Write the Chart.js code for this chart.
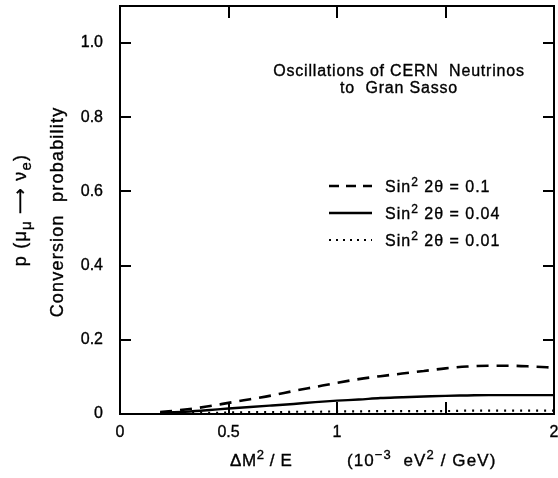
<!DOCTYPE html>
<html>
<head>
<meta charset="utf-8">
<title>Oscillations of CERN Neutrinos to Gran Sasso</title>
<script src="https://cdn.jsdelivr.net/npm/chart.js@4.4.1/dist/chart.umd.min.js"></script>
<style>
  html, body { margin: 0; padding: 0; background: #ffffff; overflow: hidden; width: 558px; height: 478px; }
  #wrap { position: absolute; left: 0; top: 0; width: 578px; height: 478px; }
</style>
</head>
<body>
<div id="wrap"><canvas id="chart"></canvas></div>
<script>
// ΔM²/E in units of 1e-3 eV²/GeV
const deltaM2OverE = [0.185, 0.3, 0.4, 0.5, 0.6, 0.7, 0.8, 0.9, 1.0, 1.1, 1.2, 1.3, 1.4, 1.5, 1.6, 1.7, 1.8, 1.9, 2.0];

// conversion probability p(νμ → νe) for each mixing strength
const probMix010 = [0.005, 0.012, 0.020, 0.030, 0.040, 0.050, 0.062, 0.073, 0.084, 0.094, 0.102, 0.109, 0.116, 0.123, 0.128, 0.130, 0.130, 0.128, 0.125];
const probMix004 = [0.003, 0.006, 0.010, 0.015, 0.019, 0.023, 0.027, 0.032, 0.036, 0.039, 0.043, 0.045, 0.047, 0.049, 0.050, 0.051, 0.051, 0.051, 0.051];
const probMix001 = [0.002, 0.003, 0.003, 0.004, 0.005, 0.005, 0.006, 0.006, 0.007, 0.007, 0.008, 0.008, 0.008, 0.008, 0.009, 0.009, 0.009, 0.009, 0.009];

const mixingLabels = ['0.1', '0.04', '0.01'];

const xTickValues = [0, 0.5, 1, 1.5, 2];
const xTickLabels = ['0', '0.5', '1', '', '2'];
const yTickValues = [0, 0.2, 0.4, 0.6, 0.8, 1.0];
const yTickLabels = ['0', '0.2', '0.4', '0.6', '0.8', '1.0'];

const FAMILY = "'Liberation Sans', Arial, Helvetica, sans-serif";
const INK = '#000000';
const TEXT_STROKE = 0.35;

function toPoints(ys) {
  return deltaM2OverE.map((x, i) => ({ x: x, y: ys[i] }));
}

// rich text: segments with optional superscript / subscript / own font
function segFont(seg, base) {
  let size = base.size;
  if (seg.sup || seg.sub) size = Math.round(base.size * (seg.scale || 0.68));
  return size + 'px ' + (seg.family || FAMILY);
}
function richWidth(ctx, segs, base) {
  let w = 0;
  for (const s of segs) { ctx.font = segFont(s, base); w += ctx.measureText(s.t).width; }
  return w;
}
function drawRich(ctx, segs, x, y, base, align) {
  ctx.letterSpacing = (base.spacing || 0) + 'px';
  const w = richWidth(ctx, segs, base);
  let cx = align === 'center' ? x - w / 2 : (align === 'right' ? x - w : x);
  ctx.textAlign = 'left';
  ctx.textBaseline = 'alphabetic';
  ctx.lineWidth = TEXT_STROKE;
  ctx.setLineDash([]);
  for (const s of segs) {
    ctx.font = segFont(s, base);
    let dy = 0;
    if (s.sup) dy = -base.size * 0.4;
    if (s.sub) dy = base.size * 0.3;
    if (s.dy) dy += s.dy;
    ctx.fillText(s.t, cx, y + dy);
    ctx.strokeText(s.t, cx, y + dy);
    cx += ctx.measureText(s.t).width;
  }
}

const framePlugin = {
  id: 'frameAndNotes',
  afterDraw(chart) {
    const ctx = chart.ctx;
    const a = chart.chartArea;
    const xs = chart.scales.x;
    const ys = chart.scales.y;
    ctx.save();
    ctx.strokeStyle = INK;
    ctx.fillStyle = INK;

    // box around the plotting area
    ctx.lineWidth = 2;
    ctx.setLineDash([]);
    ctx.strokeRect(a.left, a.top, a.right - a.left, a.bottom - a.top);

    // inward tick marks on all four sides
    ctx.beginPath();
    xTickValues.forEach(v => {
      if (v === xs.min || v === xs.max) return;
      const px = Math.round(xs.getPixelForValue(v));
      ctx.moveTo(px, a.bottom); ctx.lineTo(px, a.bottom - 12);
      ctx.moveTo(px, a.top); ctx.lineTo(px, a.top + 12);
    });
    yTickValues.forEach(v => {
      if (v === ys.min) return;
      const py = Math.round(ys.getPixelForValue(v));
      ctx.moveTo(a.left, py); ctx.lineTo(a.left + 11, py);
      ctx.moveTo(a.right, py); ctx.lineTo(a.right - 11, py);
    });
    ctx.stroke();

    // heading inside the plot
    const headBase = { size: 16, spacing: 0.8 };
    drawRich(ctx, [{ t: 'Oscillations of CERN  Neutrinos' }], 399, 76, headBase, 'center');
    drawRich(ctx, [{ t: 'to  Gran Sasso' }], 399, 92.5, headBase, 'center');

    // legend built from the dataset line styles
    const legBase = { size: 16, spacing: 1 };
    const rowsY = [186, 213, 240];
    chart.data.datasets.forEach((ds, i) => {
      const y = rowsY[i];
      ctx.save();
      ctx.lineWidth = ds.borderWidth;
      ctx.setLineDash(ds.legendDash || []);
      ctx.lineCap = 'butt';
      ctx.beginPath();
      ctx.moveTo(329, y);
      ctx.lineTo(372, y);
      ctx.stroke();
      ctx.restore();
      drawRich(ctx, [{ t: 'Sin' }, { t: '2', sup: true, scale: 0.72 }, { t: ' 2θ = ' + mixingLabels[i] }], 385, y + 6, legBase, 'left');
    });

    // x-axis title
    drawRich(ctx, [{ t: 'ΔM' }, { t: '2', sup: true, scale: 0.75 }, { t: ' / E' }], 230, 466, { size: 17, spacing: 0.6 }, 'left');
    drawRich(ctx, [{ t: '(10' }, { t: '−3', sup: true, scale: 0.75 }, { t: '  eV' }, { t: '2', sup: true, scale: 0.75 }, { t: ' / GeV)' }], 347, 466, { size: 17, spacing: 1.1 }, 'left');

    // y-axis title, two rotated lines
    const ytBase = { size: 18, spacing: 1.2 };
    ctx.save();
    ctx.translate(63, 212);
    ctx.rotate(-Math.PI / 2);
    drawRich(ctx, [{ t: 'Conversion  probability' }], 0, 0, ytBase, 'center');
    ctx.restore();

    ctx.save();
    ctx.translate(26, 210);
    ctx.rotate(-Math.PI / 2);
    drawRich(ctx, [
      { t: 'p (μ' },
      { t: 'μ', sub: true, scale: 0.85 },
      { t: ' ' },
      { t: '⟶', family: "'DejaVu Sans', sans-serif" },
      { t: ' ν' },
      { t: 'e', sub: true, scale: 0.85 },
      { t: ')' }
    ], 0, 0, ytBase, 'center');
    ctx.restore();

    ctx.restore();
  }
};

new Chart(document.getElementById('chart'), {
  type: 'scatter',
  data: {
    datasets: [
      {
        label: 'Sin² 2θ = ' + mixingLabels[0],
        data: toPoints(probMix010),
        showLine: true,
        borderColor: INK,
        borderWidth: 2.6,
        borderDash: [12, 8],
        legendDash: [10, 7],
        pointRadius: 0,
        cubicInterpolationMode: 'monotone'
      },
      {
        label: 'Sin² 2θ = ' + mixingLabels[1],
        data: toPoints(probMix004),
        showLine: true,
        borderColor: INK,
        borderWidth: 2.4,
        borderDash: [],
        legendDash: [],
        pointRadius: 0,
        cubicInterpolationMode: 'monotone'
      },
      {
        label: 'Sin² 2θ = ' + mixingLabels[2],
        data: toPoints(probMix001),
        showLine: true,
        borderColor: INK,
        borderWidth: 2.2,
        borderDash: [2, 6],
        legendDash: [2, 5],
        pointRadius: 0,
        cubicInterpolationMode: 'monotone'
      }
    ]
  },
  options: {
    responsive: true,
    maintainAspectRatio: false,
    animation: false,
    events: [],
    layout: { padding: { top: 6, right: 24, bottom: 0, left: 0 } },
    plugins: {
      legend: { display: false },
      tooltip: { enabled: false },
      title: { display: false }
    },
    scales: {
      x: {
        type: 'linear',
        position: 'bottom',
        min: 0,
        max: 2,
        grid: { display: false, drawTicks: false },
        border: { display: false },
        afterBuildTicks: s => { s.ticks = xTickValues.map(v => ({ value: v })); },
        afterFit: s => { s.height = 64; s.paddingLeft = 0; s.paddingRight = 0; },
        ticks: {
          autoSkip: false,
          maxRotation: 0,
          padding: 9,
          color: INK,
          textStrokeColor: INK,
          textStrokeWidth: TEXT_STROKE,
          font: { family: FAMILY, size: 16 },
          callback: v => { const i = xTickValues.indexOf(v); return i >= 0 ? xTickLabels[i] : ''; }
        }
      },
      y: {
        type: 'linear',
        position: 'left',
        min: 0,
        max: 1.1,
        grid: { display: false, drawTicks: false },
        border: { display: false },
        afterBuildTicks: s => { s.ticks = yTickValues.map(v => ({ value: v })); },
        afterFit: s => { s.width = 120; s.paddingTop = 0; s.paddingBottom = 0; },
        ticks: {
          autoSkip: false,
          padding: 17,
          color: INK,
          textStrokeColor: INK,
          textStrokeWidth: TEXT_STROKE,
          font: { family: FAMILY, size: 16 },
          callback: v => { const i = yTickValues.indexOf(v); return i >= 0 ? yTickLabels[i] : ''; }
        }
      }
    }
  },
  plugins: [framePlugin]
});
</script>
</body>
</html>
